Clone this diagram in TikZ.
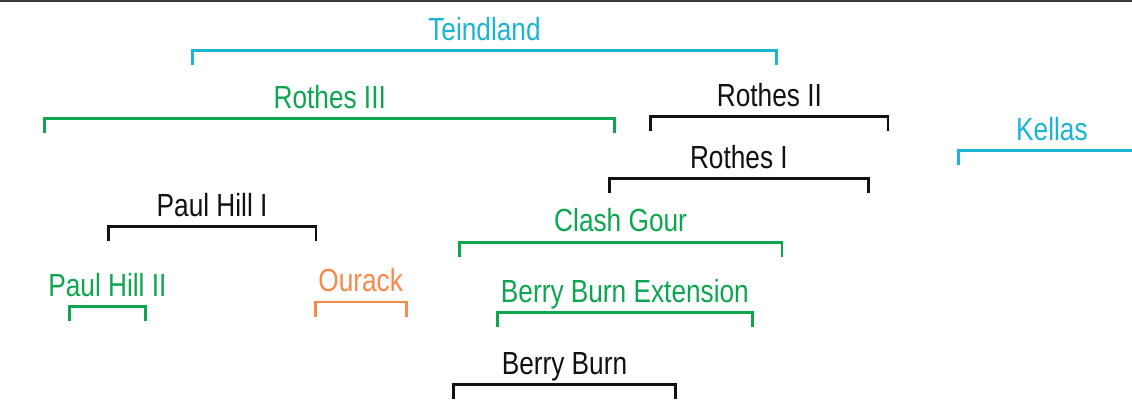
\documentclass[tikz,border=0pt]{standalone}
\usepackage{fontspec}
\setmainfont{Liberation Sans}[FakeStretch=0.82]
\definecolor{tcyan}{HTML}{1BB5D3}
\definecolor{tgreen}{HTML}{0DA64F}
\definecolor{torange}{HTML}{F7894A}
\definecolor{tblack}{HTML}{111111}
\definecolor{tgrey}{HTML}{3A3A3A}
\tikzset{
  bracketline/.style={line width=2pt, line join=miter, line cap=butt},
  unitlabel/.style={inner sep=0pt, anchor=base, font=\fontsize{24}{28}\selectfont},
}
\newcommand{\unitbracket}[6]{%
  \coordinate (#1-l) at (#3,#5+14.5);
  \coordinate (#1-tl) at (#3,#5);
  \coordinate (#1-tr) at (#4,#5);
  \coordinate (#1-r) at (#4,#5+14.5);
  \draw[bracketline,draw=#2] (#1-l) -- (#1-tl) -- (#1-tr) -- (#1-r);
  \node[unitlabel,text=#2] (#1) at ({(#3+#4)/2},#5-10.3) {#6};
}
\begin{document}
\begin{tikzpicture}[x=0.75pt,y=-0.75pt]
\useasboundingbox (0,0) rectangle (1132,405);
\coordinate (topL) at (0,0.9);
\coordinate (topR) at (1132,0.9);
\draw[tgrey, line width=1.2pt] (topL) -- (topR);
\unitbracket{teindland}{tcyan}{192.4}{776.5}{50.7}{Teindland}
\unitbracket{rothesIII}{tgreen}{44.8}{614.7}{118.5}{Rothes III}
\unitbracket{rothesII}{tblack}{650.8}{888}{116.3}{Rothes II}
\unitbracket{rothesI}{tblack}{609.3}{868.5}{178.3}{Rothes I}
\unitbracket{kellas}{tcyan}{958.8}{1145}{150.7}{Kellas}
\unitbracket{paulhillI}{tblack}{108.3}{315.9}{226.3}{Paul Hill I}
\unitbracket{paulhillII}{tgreen}{69.3}{145.5}{306.3}{Paul Hill II}
\unitbracket{ourack}{torange}{315.2}{406.2}{302}{Ourack}
\unitbracket{clashgour}{tgreen}{459.2}{782}{242.2}{Clash Gour}
\unitbracket{bbext}{tgreen}{497.5}{752.3}{312.8}{Berry Burn Extension}
\unitbracket{berryburn}{tblack}{453.5}{675.4}{384.8}{Berry Burn}
\end{tikzpicture}
\end{document}
